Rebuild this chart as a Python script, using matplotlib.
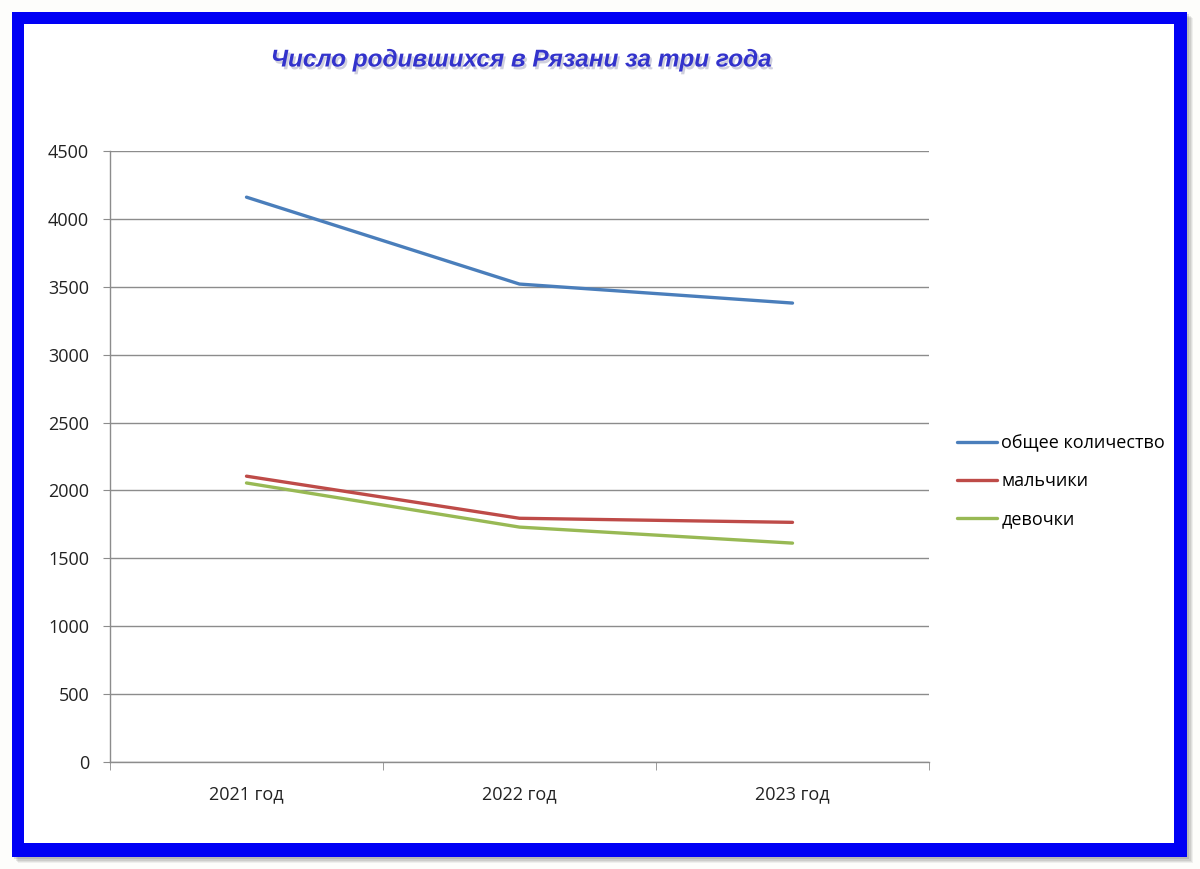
import matplotlib
matplotlib.use("Agg")
import matplotlib.pyplot as plt
import matplotlib.patheffects as pe
from matplotlib.patches import Rectangle

categories = ["2021 год", "2022 год", "2023 год"]
series_names = ["общее количество", "мальчики", "девочки"]
total = [4160, 3520, 3380]
boys = [2105, 1795, 1765]
girls = [2055, 1730, 1612]
y_ticks = [0, 500, 1000, 1500, 2000, 2500, 3000, 3500, 4000, 4500]
colors = ["#4A7EBB", "#BE4B48", "#98B954"]

W, H = 1200, 869
fig = plt.figure(figsize=(W / 100, H / 100), dpi=100)
fig.patch.set_facecolor("#FDFDFB")

def fx(px):
    return px / W

def fy(py):
    return 1 - py / H

# drop shadow of frame
for i, a in enumerate([0.08, 0.10, 0.13, 0.18]):
    off = 6 - i * 1.2
    fig.patches.append(Rectangle((fx(12 + off), fy(857 + off)), fx(1175), 845 / H,
                                 transform=fig.transFigure, facecolor="#555555",
                                 edgecolor="none", alpha=a, zorder=0))
# blue frame
fig.patches.append(Rectangle((fx(12), fy(857)), fx(1175), 845 / H,
                             transform=fig.transFigure, facecolor="#0000F5",
                             edgecolor="none", zorder=1))
fig.patches.append(Rectangle((fx(24), fy(843)), fx(1150), 819 / H,
                             transform=fig.transFigure, facecolor="white",
                             edgecolor="none", zorder=2))

ax = fig.add_axes([fx(110), fy(762), fx(929 - 110), (762 - 151) / H])
ax.set_zorder(3)
ax.patch.set_alpha(0)

x = list(range(len(categories)))
for vals, name, c in zip([total, boys, girls], series_names, colors):
    ax.plot(x, vals, color=c, lw=2.4, label=name, solid_capstyle="round",
            solid_joinstyle="round", zorder=3)

ax.set_xlim(-0.5, len(categories) - 0.5)
ax.set_ylim(0, 4500)
ax.set_yticks(y_ticks)
ax.set_yticklabels([str(v) for v in y_ticks], fontsize=13, family="Open Sans", color="#222222")
ax.grid(axis="y", color="#8C8C8C", lw=1)
ax.set_axisbelow(True)

ax.set_xticks(x)
ax.set_xticklabels(categories, fontsize=13, family="Open Sans", color="#222222")
ax.tick_params(axis="x", which="major", length=0, pad=17)
ax.set_xticks([-0.5, 0.5, 1.5, 2.5], minor=True)
ax.tick_params(axis="x", which="minor", length=6, color="#8C8C8C", direction="out")
ax.tick_params(axis="y", length=5, color="#8C8C8C", direction="out", pad=10)

for s in ["top", "right"]:
    ax.spines[s].set_visible(False)
for s in ["left", "bottom"]:
    ax.spines[s].set_color("#8C8C8C")
    ax.spines[s].set_linewidth(1)

leg = fig.legend(loc="upper left", bbox_to_anchor=(fx(950), fy(427)),
                 frameon=False, prop={"family": "Open Sans", "size": 13},
                 handlelength=2.2, handletextpad=0.25, labelspacing=1.1,
                 borderaxespad=0)
leg.set_zorder(4)

fig.text(fx(521), fy(60), "Число родившихся в Рязани за три года",
         ha="center", va="center", fontsize=17.5, fontweight="bold", fontstyle="italic",
         family="Liberation Sans", color="#3333CC", zorder=5,
         path_effects=[pe.withSimplePatchShadow(offset=(1.5, -2), shadow_rgbFace="#8888AA", alpha=0.4)])

fig.savefig("out.png", dpi=100, facecolor=fig.get_facecolor())
